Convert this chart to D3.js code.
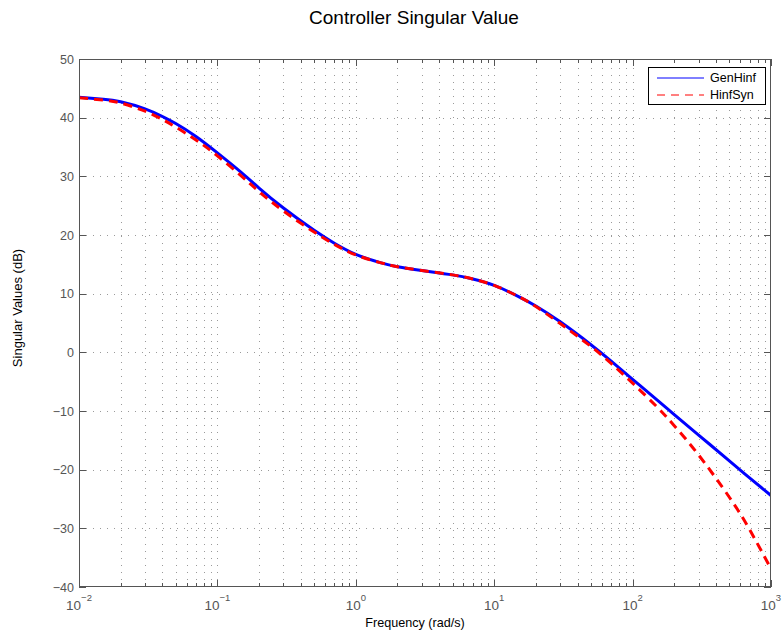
<!DOCTYPE html>
<html><head><meta charset="utf-8">
<script src="https://cdn.jsdelivr.net/npm/d3@7"></script>
<style>
body{margin:0;background:#fff;}
svg{display:block;font-family:"Liberation Sans",Arial,Helvetica,sans-serif;}
</style></head>
<body><svg id="c" width="782" height="637"></svg>
<script>
const freq = [0.01,0.015,0.02,0.03,0.04,0.05,0.07,0.1,0.15,0.2,0.3,0.5,0.7,1,1.5,2,3,5,7,10,15,20,30,50,70,100,150,200,300,500,700,1000];
const genHinf = [43.5,43.15,42.7,41.5,40.2,39.0,36.8,34.0,30.6,28.0,24.6,20.8,18.6,16.7,15.3,14.6,13.95,13.2,12.5,11.4,9.5,7.9,5.2,1.3,-1.5,-4.6,-8.1,-10.6,-14.1,-18.5,-21.4,-24.4];
const hinfSyn = [43.4,43.0,42.5,41.1,39.7,38.4,36.2,33.5,30.0,27.4,24.1,20.5,18.4,16.6,15.3,14.6,13.95,13.2,12.5,11.4,9.5,7.8,4.9,1.0,-1.9,-5.25,-9.3,-12.5,-17.5,-24.7,-30.2,-36.9];
const xExponents = [-2,-1,0,1,2,3];
const yTicks = [-40,-30,-20,-10,0,10,20,30,40,50];
const seriesNames = ["GenHinf","HinfSyn"];

const svg = d3.select("#c");
const L=79, R=771, T=59, B=587;
const x = d3.scaleLog().domain([1e-2,1e3]).range([L,R]);
const y = d3.scaleLinear().domain([-40,50]).range([B,T]);

const minor=[];
for(let e=-2;e<3;e++) for(let k=2;k<=9;k++) minor.push(k*Math.pow(10,e));
const major = xExponents.map(e=>Math.pow(10,e));

const grid = svg.append("g").attr("stroke","#9a9a9a").attr("stroke-width",1).attr("stroke-dasharray","1,6");
minor.concat(major.slice(1,-1)).forEach(v=>{
  const px=Math.round(x(v))+0.5;
  grid.append("line").attr("x1",px).attr("x2",px).attr("y1",B).attr("y2",T);
});
yTicks.slice(1,-1).forEach(v=>{
  const py=Math.round(y(v))+0.5;
  grid.append("line").attr("x1",L).attr("x2",R).attr("y1",py).attr("y2",py);
});

const tk = svg.append("g").attr("stroke","#555").attr("stroke-width",1);
major.forEach(v=>{const px=Math.round(x(v))+0.5;
  tk.append("line").attr("x1",px).attr("x2",px).attr("y1",B).attr("y2",B-7);
  tk.append("line").attr("x1",px).attr("x2",px).attr("y1",T).attr("y2",T+7);});
minor.forEach(v=>{const px=Math.round(x(v))+0.5;
  tk.append("line").attr("x1",px).attr("x2",px).attr("y1",B).attr("y2",B-4);
  tk.append("line").attr("x1",px).attr("x2",px).attr("y1",T).attr("y2",T+4);});
yTicks.forEach(v=>{const py=Math.round(y(v))+0.5;
  tk.append("line").attr("x1",L).attr("x2",L+7).attr("y1",py).attr("y2",py);
  tk.append("line").attr("x1",R).attr("x2",R-7).attr("y1",py).attr("y2",py);});

svg.append("clipPath").attr("id","clp").append("rect").attr("x",L).attr("y",T).attr("width",R-L).attr("height",B-T);
const line = d3.line().x((d,i)=>x(freq[i])).y(d=>y(d)).curve(d3.curveNatural);
svg.append("path").attr("d",line(genHinf)).attr("fill","none").attr("stroke","#0000ff").attr("stroke-width",3).attr("clip-path","url(#clp)");
svg.append("path").attr("d",line(hinfSyn)).attr("fill","none").attr("stroke","#ff0000").attr("stroke-width",3).attr("stroke-dasharray","9,6").attr("clip-path","url(#clp)");

svg.append("rect").attr("x",L+0.5).attr("y",T+0.5).attr("width",R-L-1).attr("height",B-T-1).attr("fill","none").attr("stroke","#555").attr("stroke-width",1);

const yl = svg.append("g").attr("fill","#555").attr("font-size",12.5).attr("text-anchor","end");
yTicks.forEach(v=>{
  yl.append("text").attr("x",L-5).attr("y",y(v)+4.5).text(v<0?"\u2212"+Math.abs(v):v);
});
const xl = svg.append("g").attr("fill","#555").attr("font-size",13.5);
xExponents.forEach(e=>{
  const t = xl.append("text").attr("x",x(Math.pow(10,e))).attr("y",610).attr("text-anchor","middle");
  t.append("tspan").text("10");
  t.append("tspan").attr("dy",-9).attr("font-size",9.5).text(e<0?"\u2212"+Math.abs(e):e);
});

svg.append("text").attr("x",414).attr("y",24).attr("text-anchor","middle").attr("font-size",19).attr("fill","#000").text("Controller Singular Value");
svg.append("text").attr("x",415).attr("y",627).attr("text-anchor","middle").attr("font-size",12.6).attr("fill","#000").text("Frequency (rad/s)");
svg.append("text").attr("transform","translate(22,308) rotate(-90)").attr("text-anchor","middle").attr("font-size",13).attr("fill","#000").text("Singular Values (dB)");

const lg = svg.append("g");
lg.append("rect").attr("x",648.5).attr("y",67.5).attr("width",117).attr("height",37).attr("fill","#fff").attr("stroke","#000").attr("stroke-width",1);
lg.append("line").attr("x1",657).attr("x2",704).attr("y1",78).attr("y2",78).attr("stroke","#0000ff").attr("stroke-width",1);
lg.append("line").attr("x1",657).attr("x2",704).attr("y1",95).attr("y2",95).attr("stroke","#ff0000").attr("stroke-width",1).attr("stroke-dasharray","8,6");
lg.append("text").attr("x",710).attr("y",82).attr("font-size",12.5).text(seriesNames[0]);
lg.append("text").attr("x",710).attr("y",99).attr("font-size",12.5).text(seriesNames[1]);
</script></body></html>
